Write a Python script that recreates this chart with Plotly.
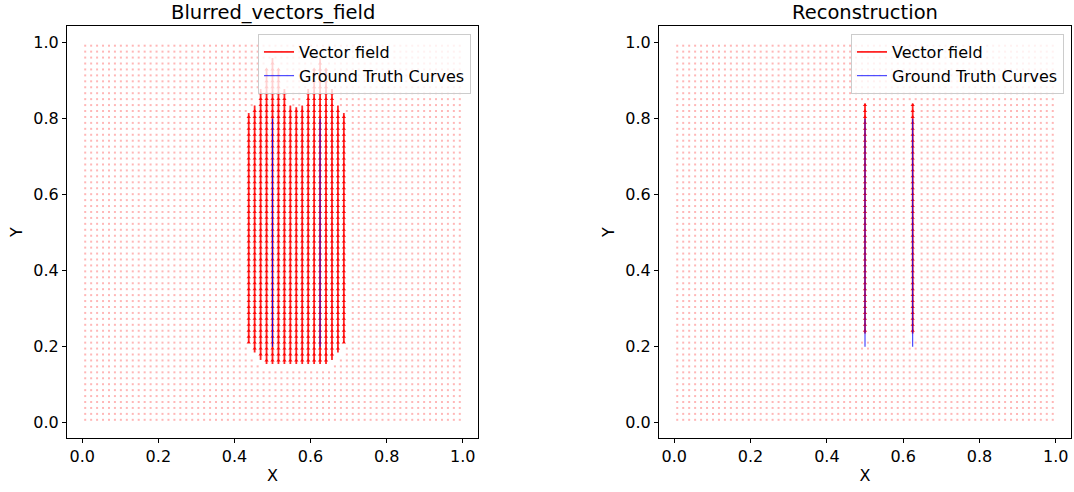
import numpy as np
import plotly.graph_objects as go

# ---------------- data ----------------
GRID_N = 64  # vector field grid resolution (points per side)

# Blurred vectors field: upward arrow columns
blur_x = [0.4375, 0.4531, 0.4688, 0.4844, 0.5, 0.5156, 0.5313, 0.5469, 0.5625,
          0.5781, 0.5938, 0.6094, 0.625, 0.6406, 0.6563, 0.6719, 0.6875]
blur_bottom = [0.21, 0.185, 0.165, 0.155, 0.155, 0.155, 0.155, 0.155, 0.155,
               0.155, 0.155, 0.155, 0.155, 0.155, 0.165, 0.185, 0.21]
blur_top = [0.815, 0.835, 0.878, 0.93, 0.96, 0.93, 0.878, 0.835, 0.83,
            0.835, 0.878, 0.93, 0.96, 0.93, 0.878, 0.835, 0.815]

# Reconstruction: upward arrow columns
rec_x = [0.5, 0.625]
rec_bottom = [0.235, 0.235]
rec_top = [0.84, 0.84]

# Ground truth curves (vertical segments)
gt_x = [0.5, 0.625]
gt_y0 = [0.2, 0.2]
gt_y1 = [0.8, 0.8]

tick_vals = [0.0, 0.2, 0.4, 0.6, 0.8, 1.0]
tick_text = ["0.0", "0.2", "0.4", "0.6", "0.8", "1.0"]

# ---------------- figure ----------------
FONT = "DejaVu Sans"
FS = 16
centers = (np.arange(GRID_N) + 0.5) / GRID_N
gx, gy = np.meshgrid(centers, centers)
gx, gy = gx.ravel(), gy.ravel()

fig = go.Figure()


def add_panel(xa, ya, legend, col_x, col_b, col_t):
    # background vector-field grid (near-zero vectors), skipping where arrows are drawn
    keep = np.ones(gx.shape, dtype=bool)
    half = 1.0 / GRID_N
    for x, b, t in zip(col_x, col_b, col_t):
        keep &= ~((np.abs(gx - x) < half * 0.75) & (gy >= b - 0.01) & (gy <= t))
    fig.add_trace(go.Scatter(
        x=gx[keep], y=gy[keep], mode="markers",
        marker=dict(symbol="square", size=2, color="rgba(255,50,50,0.35)", line=dict(width=0)),
        xaxis=xa, yaxis=ya, showlegend=False, hoverinfo="skip"))
    # arrow shafts
    lx, ly = [], []
    for x, b, t in zip(col_x, col_b, col_t):
        lx += [x, x, None]
        ly += [b, t, None]
    fig.add_trace(go.Scatter(
        x=lx, y=ly, mode="lines", line=dict(color="rgba(255,0,0,0.85)", width=1.8),
        name="Vector field", xaxis=xa, yaxis=ya, legend=legend, showlegend=True))
    # arrow heads at grid rows
    hx, hy = [], []
    for x, b, t in zip(col_x, col_b, col_t):
        rows = centers[(centers >= b) & (centers <= t)]
        hx += [x] * len(rows)
        hy += list(rows)
    fig.add_trace(go.Scatter(
        x=hx, y=hy, mode="markers",
        marker=dict(symbol="triangle-up", size=3.8, color="rgba(255,0,0,0.9)", line=dict(width=0)),
        xaxis=xa, yaxis=ya, showlegend=False, hoverinfo="skip"))
    # ground truth curves
    bx, by = [], []
    for x, a, b in zip(gt_x, gt_y0, gt_y1):
        bx += [x, x, None]
        by += [a, b, None]
    fig.add_trace(go.Scatter(
        x=bx, y=by, mode="lines", line=dict(color="rgba(0,0,255,0.85)", width=1),
        name="Ground Truth Curves", xaxis=xa, yaxis=ya, legend=legend, showlegend=True))


add_panel("x", "y", "legend", blur_x, blur_bottom, blur_top)
add_panel("x2", "y2", "legend2", rec_x, rec_bottom, rec_top)

W, H = 1074, 492
dom1 = [67 / W, 478 / W]
dom2 = [659 / W, 1071 / W]
ydom = [(H - 438) / H, (H - 26) / H]

axis_common = dict(
    showline=True, mirror=True, linecolor="black", linewidth=1,
    ticks="outside", ticklen=4, tickwidth=1, tickcolor="black",
    tickvals=tick_vals, ticktext=tick_text, showgrid=False, zeroline=False,
    tickfont=dict(family=FONT, size=FS, color="black"), automargin=False,
)
xr = [-0.04, 1.04]
yr = [-0.04, 1.044]

legend_common = dict(
    xanchor="right", yanchor="top", y=(H - 34) / H,
    bgcolor="rgba(255,255,255,0.8)", bordercolor="#cccccc", borderwidth=1,
    font=dict(family=FONT, size=FS, color="black"), tracegroupgap=0,
)

fig.update_layout(
    width=W, height=H, margin=dict(l=0, r=0, t=0, b=0),
    plot_bgcolor="white", paper_bgcolor="white",
    font=dict(family=FONT, size=FS, color="black"),
    xaxis=dict(domain=dom1, range=xr, anchor="y",
               title=dict(text="X", standoff=4, font=dict(family=FONT, size=FS)), **axis_common),
    yaxis=dict(domain=ydom, range=yr, anchor="x",
               title=dict(text="Y", standoff=6, font=dict(family=FONT, size=FS)), **axis_common),
    xaxis2=dict(domain=dom2, range=xr, anchor="y2",
                title=dict(text="X", standoff=4, font=dict(family=FONT, size=FS)), **axis_common),
    yaxis2=dict(domain=ydom, range=yr, anchor="x2",
                title=dict(text="Y", standoff=6, font=dict(family=FONT, size=FS)), **axis_common),
    legend=dict(x=471 / W, **legend_common),
    legend2=dict(x=1064 / W, **legend_common),
    annotations=[
        dict(text="Blurred_vectors_field", x=(dom1[0] + dom1[1]) / 2, y=(H - 12) / H,
             xref="paper", yref="paper", showarrow=False, xanchor="center", yanchor="middle",
             font=dict(family=FONT, size=19.5, color="black")),
        dict(text="Reconstruction", x=(dom2[0] + dom2[1]) / 2, y=(H - 12) / H,
             xref="paper", yref="paper", showarrow=False, xanchor="center", yanchor="middle",
             font=dict(family=FONT, size=19.5, color="black")),
    ],
)

fig.write_html("out.html", config={"displayModeBar": False},
               post_script="document.body.style.margin='0';document.body.style.padding='0';")
